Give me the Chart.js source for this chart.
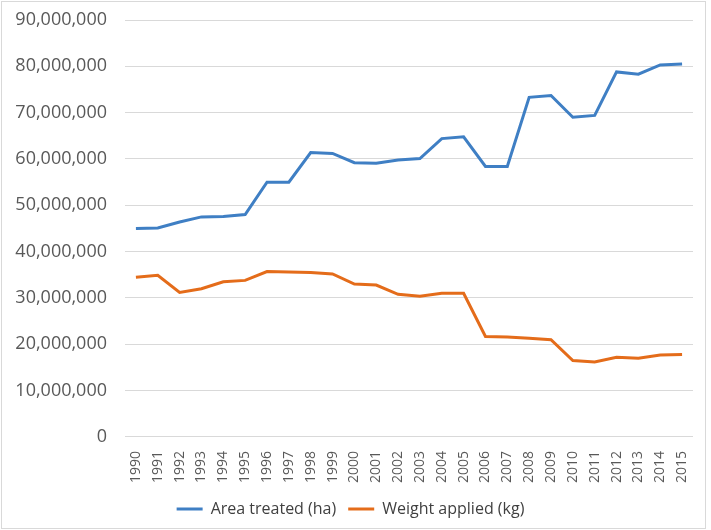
<!DOCTYPE html>
<html>
<head>
<meta charset="utf-8">
<script src="https://cdn.jsdelivr.net/npm/chart.js@4/dist/chart.umd.min.js"></script>
<style>
html,body{margin:0;padding:0;background:#fff;}
#wrap{width:711px;height:530px;position:relative;}
</style>
</head>
<body>
<div id="wrap"><canvas id="c" width="711" height="530"></canvas></div>
<script>
const years = ["1990","1991","1992","1993","1994","1995","1996","1997","1998","1999","2000","2001","2002","2003","2004","2005","2006","2007","2008","2009","2010","2011","2012","2013","2014","2015"];
const areaTreated = [45000000,45100000,46400000,47500000,47600000,48000000,55000000,55000000,61400000,61200000,59200000,59100000,59800000,60100000,64400000,64800000,58400000,58400000,73300000,73700000,69000000,69400000,78800000,78300000,80300000,80500000];
const weightApplied = [34500000,34900000,31200000,32000000,33500000,33800000,35700000,35600000,35500000,35200000,33000000,32800000,30800000,30400000,31000000,31000000,21700000,21600000,21300000,21000000,16500000,16200000,17200000,17000000,17700000,17800000];
const seriesNames = ["Area treated (ha)","Weight applied (kg)"];

const borderPlugin = {
  id: 'frame',
  beforeDraw(chart) {
    const ctx = chart.ctx;
    ctx.save();
    ctx.fillStyle = '#fff';
    ctx.fillRect(0,0,chart.width,chart.height);
    ctx.strokeStyle = '#d9d9d9';
    ctx.lineWidth = 1;
    ctx.strokeRect(1.5,1.5,chart.width-7,chart.height-3);
    ctx.restore();
  }
};

const FONT = "'Open Sans', 'Noto Sans', sans-serif";

new Chart(document.getElementById('c'), {
  type: 'line',
  data: {
    labels: years,
    datasets: [
      {label: seriesNames[0], data: areaTreated, borderColor: '#3f7fc4', backgroundColor: '#3f7fc4', borderWidth: 3, pointRadius: 0, tension: 0},
      {label: seriesNames[1], data: weightApplied, borderColor: '#e46c1a', backgroundColor: '#e46c1a', borderWidth: 3, pointRadius: 0, tension: 0}
    ]
  },
  options: {
    responsive: false,
    animation: false,
    devicePixelRatio: 1,
    layout: {padding: {top: 20, left: 8, right: 18, bottom: 3}},
    plugins: {
      legend: {
        position: 'bottom',
        labels: {
          usePointStyle: true,
          pointStyle: 'line',
          pointStyleWidth: 26,
          boxHeight: 3,
          color: '#404040',
          font: {family: FONT, size: 16},
          padding: 12
        }
      },
      tooltip: {enabled: false}
    },
    scales: {
      x: {
        offset: true,
        grid: {display: false},
        border: {display: false},
        afterFit: (axis) => { axis.paddingLeft = 0; axis.paddingRight = 0; axis.paddingTop = 0; axis.paddingBottom = 0; },
        ticks: {
          minRotation: 90, maxRotation: 90, autoSkip: false,
          color: '#595959', padding: 6,
          font: {family: FONT, size: 14}
        }
      },
      y: {
        min: 0, max: 90000000,
        afterFit: (axis) => { axis.width = 117; axis.paddingTop = 0; axis.paddingBottom = 0; },
        grid: {color: '#d9d9d9', lineWidth: 1, drawTicks: false},
        border: {display: false},
        ticks: {
          stepSize: 10000000,
          color: '#595959', padding: 18,
          font: {family: FONT, size: 18},
          callback: v => Number(v).toLocaleString('en-US')
        }
      }
    }
  },
  plugins: [borderPlugin]
});
</script>
</body>
</html>
